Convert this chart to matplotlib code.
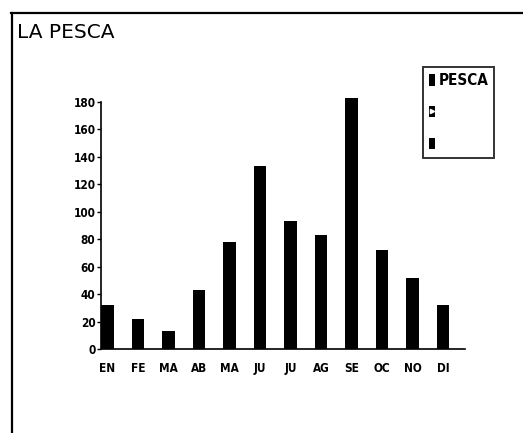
import numpy as np
import matplotlib
matplotlib.use("Agg")
import matplotlib.pyplot as plt
from matplotlib.patches import Patch
from matplotlib.lines import Line2D

# Capturas mensuales
meses = ["EN", "FE", "MA", "AB", "MA", "JU", "JU", "AG", "SE", "OC", "NO", "DI"]
pesca = [32, 22, 13, 43, 78, 133, 93, 83, 183, 72, 52, 32]
y_ticks = [0, 20, 40, 60, 80, 100, 120, 140, 160, 180]

W, H = 523, 433
fig = plt.figure(figsize=(W / 100, H / 100), dpi=100)
fig.patch.set_facecolor("white")

# marco exterior (solo lados izquierdo y superior visibles)
fig.add_artist(Line2D([11.5 / W, 11.5 / W], [0, 1 - 13 / H], color="black",
                      lw=1.6, transform=fig.transFigure))
fig.add_artist(Line2D([11 / W, 1], [1 - 13 / H, 1 - 13 / H], color="black",
                      lw=1.6, transform=fig.transFigure))

fig.text(17 / W, 1 - 32.5 / H, "LA PESCA", fontsize=14.5, va="center",
         ha="left", family="DejaVu Sans", weight="medium")

ax = fig.add_axes([101 / W, 1 - 349.3 / H, 364 / W, 261.4 / H])
x = np.arange(len(meses))
ax.bar(x, pesca, width=0.4, color="black")

ax.set_xlim(-0.213, 11.72)
ax.set_ylim(0, 190)
ax.spines["top"].set_visible(False)
ax.spines["right"].set_visible(False)
ax.spines["left"].set_bounds(0, 180)
for s in ("left", "bottom"):
    ax.spines[s].set_linewidth(1.2)

lab_font = dict(family="DejaVu Sans", stretch="condensed", weight="bold",
                size=8.5)
ax.set_yticks(y_ticks)
ax.set_yticklabels([str(v) for v in y_ticks], **lab_font)
ax.tick_params(axis="y", direction="out", length=3, width=1, pad=1)
ax.set_xticks(x)
ax.set_xticklabels(meses, **lab_font)
ax.tick_params(axis="x", length=0, pad=9)

# leyenda con tres entradas
h1 = Patch(facecolor="black")
h2 = (Patch(facecolor="black"),
      Line2D([], [], marker=">", color="white", ms=3, ls="none"))
h3 = Patch(facecolor="black")
leg = fig.legend([h1, h2, h3], ["PESCA", "", ""],
                 loc="upper left", bbox_to_anchor=(423 / W, 1 - 67 / H),
                 bbox_transform=fig.transFigure, frameon=True, fancybox=False,
                 handlelength=0.4, handleheight=0.8, handletextpad=0.2,
                 labelspacing=1.1, borderpad=0.4, borderaxespad=0,
                 prop=dict(family="DejaVu Sans", stretch="condensed",
                           weight="bold", size=11))
leg.get_frame().set_edgecolor("black")
leg.get_frame().set_linewidth(1.4)

fig.savefig("out.png", dpi=100, facecolor="white")
